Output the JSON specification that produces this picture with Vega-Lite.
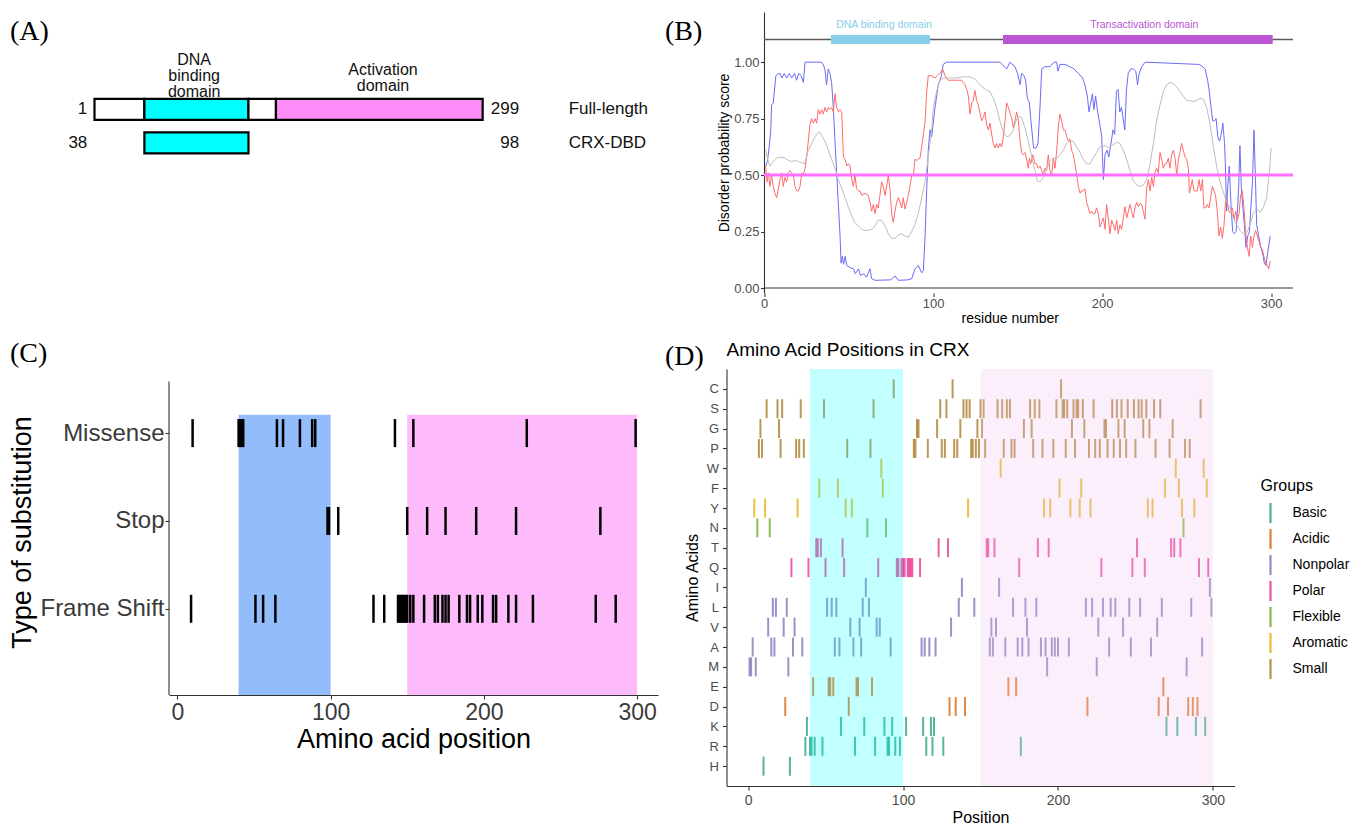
{
"$schema": "https://vega.github.io/schema/vega-lite/v6.json",
"background": "white",
"padding": {"left": 8, "top": 12, "right": 5, "bottom": 5},
"title": {"text": "(D)", "dx": 496, "dy": 385, "baseline": "alphabetic"},
"columns": 2,
"align": "each",
"bounds": "flush",
"spacing": {"row": 76, "column": 68.5},
"resolve": {"scale": {"color": "independent", "x": "independent", "y": "independent"}, "legend": {"color": "independent"}},
"config": {
  "view": {"stroke": null},
  "font": "Liberation Sans",
  "axis": {"grid": false, "domainColor": "#333333", "tickColor": "#333333", "labelColor": "#4D4D4D", "titleColor": "#000000", "titleFontWeight": "normal", "labelFont": "Liberation Sans", "titleFont": "Liberation Sans", "domainWidth": 1.1, "tickWidth": 1.1, "tickSize": 4, "labelFlush": false},
  "title": {"font": "Liberation Serif", "fontSize": 28, "fontWeight": "normal", "anchor": "start", "frame": "group", "color": "#000000"}
},
"datasets": {
  "parts": [
    {"row": 1, "part": "N-terminal", "from": 1, "to": 39.3},
    {"row": 1, "part": "DNA binding domain", "from": 39.3, "to": 119.2},
    {"row": 1, "part": "Linker", "from": 119.2, "to": 140.3},
    {"row": 1, "part": "Activation domain", "from": 140.3, "to": 299},
    {"row": 2, "part": "DNA binding domain", "from": 39.3, "to": 119.2}
  ],
  "rows": [
    {"row": 1, "name": "Full-length", "first": "1", "last": "299"},
    {"row": 2, "name": "CRX-DBD", "first": "38", "last": "98"}
  ],
  "domainLabels": [
    {"key": "DBD", "label": "DNA\nbinding\ndomain", "at": 77.5},
    {"key": "AD", "label": "Activation\ndomain", "at": 222.5}
  ],
  "bdomains": [
    {"name": "DNA binding domain", "start": 39.6, "end": 98.2, "mid": 71},
    {"name": "Transactivation domain", "start": 141.4, "end": 301, "mid": 225}
  ],
  "bguides": [
    {"guide": "threshold", "level": 0.5, "from": 0, "to": 313},
    {"guide": "protein", "level": 1.1, "from": 0, "to": 313},
    {"guide": "axis", "level": 0, "from": 0, "to": 313}
  ],
  "cguides": [
    {"guide": "axis", "x": -5.4, "lo": 0, "hi": 3.6}
  ],
  "regionsC": [
    {"region": "DNA binding", "start": 40, "end": 100, "lo": 0, "hi": 3.22},
    {"region": "Activation", "start": 150, "end": 300, "lo": 0, "hi": 3.22}
  ],
  "regionsD": [
    {"region": "DNA binding", "start": 40, "end": 100},
    {"region": "Activation", "start": 150, "end": 300}
  ],
  "mutations": [
    {"pos": 10, "type": "Missense"}, {"pos": 40, "type": "Missense"}, {"pos": 41, "type": "Missense"}, {"pos": 42, "type": "Missense"}, {"pos": 43, "type": "Missense"},
    {"pos": 65, "type": "Missense"}, {"pos": 69, "type": "Missense"}, {"pos": 80, "type": "Missense"}, {"pos": 88, "type": "Missense"}, {"pos": 90, "type": "Missense"},
    {"pos": 142, "type": "Missense"}, {"pos": 154, "type": "Missense"}, {"pos": 228, "type": "Missense"}, {"pos": 299, "type": "Missense"},
    {"pos": 98, "type": "Stop"}, {"pos": 99, "type": "Stop"}, {"pos": 105, "type": "Stop"}, {"pos": 150, "type": "Stop"}, {"pos": 163, "type": "Stop"},
    {"pos": 175, "type": "Stop"}, {"pos": 195, "type": "Stop"}, {"pos": 221, "type": "Stop"}, {"pos": 276, "type": "Stop"},
    {"pos": 9, "type": "Frame Shift"}, {"pos": 51, "type": "Frame Shift"}, {"pos": 56, "type": "Frame Shift"}, {"pos": 64, "type": "Frame Shift"},
    {"pos": 128, "type": "Frame Shift"}, {"pos": 135, "type": "Frame Shift"}, {"pos": 144, "type": "Frame Shift"}, {"pos": 145, "type": "Frame Shift"},
    {"pos": 146, "type": "Frame Shift"}, {"pos": 147, "type": "Frame Shift"}, {"pos": 148, "type": "Frame Shift"}, {"pos": 149, "type": "Frame Shift"},
    {"pos": 150, "type": "Frame Shift"}, {"pos": 152, "type": "Frame Shift"}, {"pos": 154, "type": "Frame Shift"}, {"pos": 161, "type": "Frame Shift"},
    {"pos": 168, "type": "Frame Shift"}, {"pos": 170, "type": "Frame Shift"}, {"pos": 173, "type": "Frame Shift"}, {"pos": 175, "type": "Frame Shift"},
    {"pos": 177, "type": "Frame Shift"}, {"pos": 184, "type": "Frame Shift"}, {"pos": 189, "type": "Frame Shift"}, {"pos": 191, "type": "Frame Shift"},
    {"pos": 196, "type": "Frame Shift"}, {"pos": 199, "type": "Frame Shift"}, {"pos": 206, "type": "Frame Shift"}, {"pos": 208, "type": "Frame Shift"},
    {"pos": 216, "type": "Frame Shift"}, {"pos": 221, "type": "Frame Shift"}, {"pos": 232, "type": "Frame Shift"}, {"pos": 273, "type": "Frame Shift"},
    {"pos": 286, "type": "Frame Shift"}
  ],
  "aagroups": [
    {"a": "K", "g": "Basic"}, {"a": "R", "g": "Basic"}, {"a": "H", "g": "Basic"},
    {"a": "D", "g": "Acidic"}, {"a": "E", "g": "Acidic"},
    {"a": "A", "g": "Nonpolar"}, {"a": "V", "g": "Nonpolar"}, {"a": "L", "g": "Nonpolar"}, {"a": "I", "g": "Nonpolar"}, {"a": "M", "g": "Nonpolar"},
    {"a": "T", "g": "Polar"}, {"a": "Q", "g": "Polar"},
    {"a": "N", "g": "Flexible"},
    {"a": "Y", "g": "Aromatic"}, {"a": "F", "g": "Aromatic"}, {"a": "W", "g": "Aromatic"},
    {"a": "S", "g": "Small"}, {"a": "G", "g": "Small"}, {"a": "P", "g": "Small"}, {"a": "C", "g": "Small"}
  ],
  "seq": [
    {"p":1,"a":"M"},{"p":2,"a":"M"},{"p":3,"a":"A"},{"p":4,"a":"Y"},{"p":5,"a":"M"},{"p":6,"a":"N"},{"p":7,"a":"P"},{"p":8,"a":"G"},{"p":9,"a":"P"},{"p":10,"a":"H"},
    {"p":11,"a":"Y"},{"p":12,"a":"S"},{"p":13,"a":"V"},{"p":14,"a":"N"},{"p":15,"a":"A"},{"p":16,"a":"L"},{"p":17,"a":"A"},{"p":18,"a":"L"},{"p":19,"a":"S"},{"p":20,"a":"G"},
    {"p":21,"a":"P"},{"p":22,"a":"S"},{"p":23,"a":"V"},{"p":24,"a":"D"},{"p":25,"a":"L"},{"p":26,"a":"M"},{"p":27,"a":"H"},{"p":28,"a":"Q"},{"p":29,"a":"A"},{"p":30,"a":"V"},
    {"p":31,"a":"P"},{"p":32,"a":"Y"},{"p":33,"a":"P"},{"p":34,"a":"S"},{"p":35,"a":"A"},{"p":36,"a":"P"},{"p":37,"a":"R"},{"p":38,"a":"K"},{"p":39,"a":"Q"},{"p":40,"a":"R"},
    {"p":41,"a":"R"},{"p":42,"a":"E"},{"p":43,"a":"R"},{"p":44,"a":"T"},{"p":45,"a":"T"},{"p":46,"a":"F"},{"p":47,"a":"T"},{"p":48,"a":"R"},{"p":49,"a":"S"},{"p":50,"a":"Q"},
    {"p":51,"a":"L"},{"p":52,"a":"E"},{"p":53,"a":"E"},{"p":54,"a":"L"},{"p":55,"a":"E"},{"p":56,"a":"A"},{"p":57,"a":"L"},{"p":58,"a":"F"},{"p":59,"a":"A"},{"p":60,"a":"K"},
    {"p":61,"a":"T"},{"p":62,"a":"Q"},{"p":63,"a":"Y"},{"p":64,"a":"P"},{"p":65,"a":"D"},{"p":66,"a":"V"},{"p":67,"a":"Y"},{"p":68,"a":"A"},{"p":69,"a":"R"},{"p":70,"a":"E"},
    {"p":71,"a":"E"},{"p":72,"a":"V"},{"p":73,"a":"A"},{"p":74,"a":"L"},{"p":75,"a":"K"},{"p":76,"a":"I"},{"p":77,"a":"N"},{"p":78,"a":"L"},{"p":79,"a":"P"},{"p":80,"a":"E"},
    {"p":81,"a":"S"},{"p":82,"a":"R"},{"p":83,"a":"V"},{"p":84,"a":"Q"},{"p":85,"a":"V"},{"p":86,"a":"W"},{"p":87,"a":"F"},{"p":88,"a":"K"},{"p":89,"a":"N"},{"p":90,"a":"R"},
    {"p":91,"a":"R"},{"p":92,"a":"A"},{"p":93,"a":"K"},{"p":94,"a":"C"},{"p":95,"a":"R"},{"p":96,"a":"Q"},{"p":97,"a":"Q"},{"p":98,"a":"R"},{"p":99,"a":"Q"},{"p":100,"a":"Q"},
    {"p":101,"a":"Q"},{"p":102,"a":"K"},{"p":103,"a":"Q"},{"p":104,"a":"Q"},{"p":105,"a":"Q"},{"p":106,"a":"Q"},{"p":107,"a":"P"},{"p":108,"a":"P"},{"p":109,"a":"G"},{"p":110,"a":"G"},
    {"p":111,"a":"Q"},{"p":112,"a":"A"},{"p":113,"a":"K"},{"p":114,"a":"A"},{"p":115,"a":"R"},{"p":116,"a":"P"},{"p":117,"a":"A"},{"p":118,"a":"K"},{"p":119,"a":"R"},{"p":120,"a":"K"},
    {"p":121,"a":"A"},{"p":122,"a":"G"},{"p":123,"a":"T"},{"p":124,"a":"S"},{"p":125,"a":"P"},{"p":126,"a":"R"},{"p":127,"a":"P"},{"p":128,"a":"S"},{"p":129,"a":"T"},{"p":130,"a":"D"},
    {"p":131,"a":"V"},{"p":132,"a":"C"},{"p":133,"a":"P"},{"p":134,"a":"D"},{"p":135,"a":"P"},{"p":136,"a":"L"},{"p":137,"a":"G"},{"p":138,"a":"I"},{"p":139,"a":"S"},{"p":140,"a":"D"},
    {"p":141,"a":"S"},{"p":142,"a":"Y"},{"p":143,"a":"S"},{"p":144,"a":"P"},{"p":145,"a":"P"},{"p":146,"a":"L"},{"p":147,"a":"P"},{"p":148,"a":"G"},{"p":149,"a":"P"},{"p":150,"a":"S"},
    {"p":151,"a":"G"},{"p":152,"a":"S"},{"p":153,"a":"P"},{"p":154,"a":"T"},{"p":155,"a":"T"},{"p":156,"a":"A"},{"p":157,"a":"V"},{"p":158,"a":"A"},{"p":159,"a":"T"},{"p":160,"a":"V"},
    {"p":161,"a":"S"},{"p":162,"a":"I"},{"p":163,"a":"W"},{"p":164,"a":"S"},{"p":165,"a":"P"},{"p":166,"a":"A"},{"p":167,"a":"S"},{"p":168,"a":"E"},{"p":169,"a":"S"},{"p":170,"a":"P"},
    {"p":171,"a":"L"},{"p":172,"a":"P"},{"p":173,"a":"E"},{"p":174,"a":"A"},{"p":175,"a":"Q"},{"p":176,"a":"R"},{"p":177,"a":"A"},{"p":178,"a":"G"},{"p":179,"a":"L"},{"p":180,"a":"V"},
    {"p":181,"a":"A"},{"p":182,"a":"S"},{"p":183,"a":"G"},{"p":184,"a":"P"},{"p":185,"a":"S"},{"p":186,"a":"L"},{"p":187,"a":"T"},{"p":188,"a":"S"},{"p":189,"a":"A"},{"p":190,"a":"P"},
    {"p":191,"a":"Y"},{"p":192,"a":"A"},{"p":193,"a":"M"},{"p":194,"a":"T"},{"p":195,"a":"Y"},{"p":196,"a":"A"},{"p":197,"a":"P"},{"p":198,"a":"A"},{"p":199,"a":"S"},{"p":200,"a":"A"},
    {"p":201,"a":"F"},{"p":202,"a":"C"},{"p":203,"a":"S"},{"p":204,"a":"S"},{"p":205,"a":"P"},{"p":206,"a":"S"},{"p":207,"a":"A"},{"p":208,"a":"Y"},{"p":209,"a":"G"},{"p":210,"a":"S"},
    {"p":211,"a":"P"},{"p":212,"a":"S"},{"p":213,"a":"S"},{"p":214,"a":"Y"},{"p":215,"a":"F"},{"p":216,"a":"S"},{"p":217,"a":"G"},{"p":218,"a":"L"},{"p":219,"a":"D"},{"p":220,"a":"P"},
    {"p":221,"a":"Y"},{"p":222,"a":"L"},{"p":223,"a":"S"},{"p":224,"a":"P"},{"p":225,"a":"M"},{"p":226,"a":"V"},{"p":227,"a":"P"},{"p":228,"a":"Q"},{"p":229,"a":"L"},{"p":230,"a":"G"},
    {"p":231,"a":"G"},{"p":232,"a":"P"},{"p":233,"a":"A"},{"p":234,"a":"L"},{"p":235,"a":"S"},{"p":236,"a":"P"},{"p":237,"a":"L"},{"p":238,"a":"S"},{"p":239,"a":"G"},{"p":240,"a":"P"},
    {"p":241,"a":"S"},{"p":242,"a":"V"},{"p":243,"a":"G"},{"p":244,"a":"P"},{"p":245,"a":"S"},{"p":246,"a":"L"},{"p":247,"a":"A"},{"p":248,"a":"Q"},{"p":249,"a":"S"},{"p":250,"a":"P"},
    {"p":251,"a":"T"},{"p":252,"a":"S"},{"p":253,"a":"L"},{"p":254,"a":"S"},{"p":255,"a":"G"},{"p":256,"a":"Q"},{"p":257,"a":"S"},{"p":258,"a":"Y"},{"p":259,"a":"G"},{"p":260,"a":"A"},
    {"p":261,"a":"Y"},{"p":262,"a":"S"},{"p":263,"a":"P"},{"p":264,"a":"V"},{"p":265,"a":"D"},{"p":266,"a":"S"},{"p":267,"a":"L"},{"p":268,"a":"E"},{"p":269,"a":"F"},{"p":270,"a":"K"},
    {"p":271,"a":"D"},{"p":272,"a":"P"},{"p":273,"a":"T"},{"p":274,"a":"G"},{"p":275,"a":"T"},{"p":276,"a":"W"},{"p":277,"a":"K"},{"p":278,"a":"F"},{"p":279,"a":"T"},{"p":280,"a":"Y"},
    {"p":281,"a":"N"},{"p":282,"a":"P"},{"p":283,"a":"M"},{"p":284,"a":"D"},{"p":285,"a":"P"},{"p":286,"a":"L"},{"p":287,"a":"D"},{"p":288,"a":"Y"},{"p":289,"a":"K"},{"p":290,"a":"D"},
    {"p":291,"a":"Q"},{"p":292,"a":"S"},{"p":293,"a":"A"},{"p":294,"a":"W"},{"p":295,"a":"K"},{"p":296,"a":"F"},{"p":297,"a":"Q"},{"p":298,"a":"I"},{"p":299,"a":"L"}
  ],
  "disorder": [
    {"s":"P1","r":1,"v":0.54},{"s":"P1","r":2,"v":0.56},{"s":"P1","r":3,"v":0.62},{"s":"P1","r":4,"v":0.7},{"s":"P1","r":4.5,"v":0.81},{"s":"P1","r":5.5,"v":0.82},{"s":"P1","r":7,"v":0.94},{"s":"P1","r":8.5,"v":0.95},{"s":"P1","r":9.5,"v":0.95},{"s":"P1","r":10.5,"v":0.93},
    {"s":"P1","r":12,"v":0.95},{"s":"P1","r":13.4,"v":0.93},{"s":"P1","r":15,"v":0.95},{"s":"P1","r":16.4,"v":0.93},{"s":"P1","r":18,"v":0.95},{"s":"P1","r":19.3,"v":0.92},{"s":"P1","r":20.5,"v":0.95},{"s":"P1","r":22,"v":0.94},{"s":"P1","r":23.3,"v":0.91},{"s":"P1","r":24.3,"v":1.0},
    {"s":"P1","r":34,"v":1.0},{"s":"P1","r":35,"v":0.99},{"s":"P1","r":36,"v":0.97},{"s":"P1","r":37,"v":0.9},{"s":"P1","r":38,"v":0.97},{"s":"P1","r":39,"v":0.95},{"s":"P1","r":40,"v":0.91},{"s":"P1","r":41,"v":0.8},{"s":"P1","r":42,"v":0.65},{"s":"P1","r":43,"v":0.51},
    {"s":"P1","r":44,"v":0.37},{"s":"P1","r":45,"v":0.23},{"s":"P1","r":45.6,"v":0.11},{"s":"P1","r":46.3,"v":0.14},{"s":"P1","r":47.1,"v":0.105},{"s":"P1","r":48,"v":0.14},{"s":"P1","r":49,"v":0.1},{"s":"P1","r":51,"v":0.09},{"s":"P1","r":53,"v":0.085},{"s":"P1","r":54,"v":0.063},
    {"s":"P1","r":56,"v":0.085},{"s":"P1","r":57,"v":0.056},{"s":"P1","r":59,"v":0.063},{"s":"P1","r":60.7,"v":0.048},{"s":"P1","r":62.7,"v":0.085},{"s":"P1","r":63.7,"v":0.041},{"s":"P1","r":65.7,"v":0.034},{"s":"P1","r":70,"v":0.035},{"s":"P1","r":75,"v":0.036},{"s":"P1","r":77.5,"v":0.053},
    {"s":"P1","r":79.5,"v":0.034},{"s":"P1","r":85,"v":0.036},{"s":"P1","r":87.4,"v":0.041},{"s":"P1","r":89.3,"v":0.084},{"s":"P1","r":91.3,"v":0.1},{"s":"P1","r":93.3,"v":0.067},{"s":"P1","r":94.3,"v":0.077},{"s":"P1","r":95.3,"v":0.23},{"s":"P1","r":96.3,"v":0.44},{"s":"P1","r":97.2,"v":0.61},
    {"s":"P1","r":98.2,"v":0.7},{"s":"P1","r":99.2,"v":0.67},{"s":"P1","r":101.2,"v":0.8},{"s":"P1","r":103.1,"v":0.9},{"s":"P1","r":105,"v":0.94},{"s":"P1","r":106,"v":0.99},{"s":"P1","r":108,"v":1.0},{"s":"P1","r":139.6,"v":1.0},{"s":"P1","r":143.6,"v":0.97},{"s":"P1","r":145.5,"v":1.0},
    {"s":"P1","r":148.5,"v":0.98},{"s":"P1","r":150,"v":0.95},{"s":"P1","r":151.5,"v":0.9},{"s":"P1","r":152.4,"v":0.95},{"s":"P1","r":153.8,"v":0.94},{"s":"P1","r":154.8,"v":0.92},{"s":"P1","r":155.8,"v":0.84},{"s":"P1","r":157,"v":0.82},{"s":"P1","r":157.8,"v":0.75},{"s":"P1","r":158.6,"v":0.69},
    {"s":"P1","r":159.5,"v":0.62},{"s":"P1","r":160.9,"v":0.62},{"s":"P1","r":162.1,"v":0.64},{"s":"P1","r":163.3,"v":0.8},{"s":"P1","r":164.3,"v":0.97},{"s":"P1","r":166.2,"v":0.98},{"s":"P1","r":169.2,"v":0.98},{"s":"P1","r":171.6,"v":1.0},{"s":"P1","r":173.2,"v":1.0},{"s":"P1","r":173.9,"v":0.96},
    {"s":"P1","r":175.1,"v":0.99},{"s":"P1","r":178.1,"v":0.99},{"s":"P1","r":181,"v":0.98},{"s":"P1","r":183.4,"v":0.97},{"s":"P1","r":186,"v":0.95},{"s":"P1","r":188.5,"v":0.93},{"s":"P1","r":189.9,"v":0.9},{"s":"P1","r":191.3,"v":0.85},{"s":"P1","r":192.3,"v":0.78},{"s":"P1","r":193.3,"v":0.82},
    {"s":"P1","r":194.3,"v":0.86},{"s":"P1","r":195.2,"v":0.79},{"s":"P1","r":196.2,"v":0.85},{"s":"P1","r":197.4,"v":0.78},{"s":"P1","r":198.8,"v":0.72},{"s":"P1","r":199.8,"v":0.67},{"s":"P1","r":200.8,"v":0.48},{"s":"P1","r":201.8,"v":0.59},{"s":"P1","r":203,"v":0.61},{"s":"P1","r":204,"v":0.58},
    {"s":"P1","r":205.5,"v":0.65},{"s":"P1","r":206.5,"v":0.7},{"s":"P1","r":207.5,"v":0.68},{"s":"P1","r":208.5,"v":0.87},{"s":"P1","r":209.5,"v":0.88},{"s":"P1","r":210.5,"v":0.78},{"s":"P1","r":211.5,"v":0.8},{"s":"P1","r":212.5,"v":0.75},{"s":"P1","r":213.5,"v":0.7},{"s":"P1","r":214.5,"v":0.88},
    {"s":"P1","r":215.5,"v":0.95},{"s":"P1","r":217,"v":0.97},{"s":"P1","r":218.5,"v":0.97},{"s":"P1","r":220,"v":0.96},{"s":"P1","r":221,"v":0.9},{"s":"P1","r":222,"v":0.95},{"s":"P1","r":223.5,"v":0.98},{"s":"P1","r":225.5,"v":1.0},{"s":"P1","r":257.5,"v":0.99},{"s":"P1","r":259.5,"v":0.98},
    {"s":"P1","r":261,"v":0.97},{"s":"P1","r":262.5,"v":0.92},{"s":"P1","r":263.5,"v":0.87},{"s":"P1","r":264.5,"v":0.8},{"s":"P1","r":265.5,"v":0.74},{"s":"P1","r":266.5,"v":0.74},{"s":"P1","r":267.5,"v":0.75},{"s":"P1","r":268.5,"v":0.67},{"s":"P1","r":269.5,"v":0.65},{"s":"P1","r":270.5,"v":0.68},
    {"s":"P1","r":271.5,"v":0.73},{"s":"P1","r":272.5,"v":0.64},{"s":"P1","r":273,"v":0.54},{"s":"P1","r":273.7,"v":0.34},{"s":"P1","r":274.3,"v":0.44},{"s":"P1","r":275.3,"v":0.54},{"s":"P1","r":276.3,"v":0.37},{"s":"P1","r":277.3,"v":0.25},{"s":"P1","r":278.3,"v":0.24},{"s":"P1","r":279.3,"v":0.25},
    {"s":"P1","r":280.2,"v":0.35},{"s":"P1","r":280.8,"v":0.44},{"s":"P1","r":281.6,"v":0.63},{"s":"P1","r":282.4,"v":0.45},{"s":"P1","r":283.2,"v":0.37},{"s":"P1","r":284.2,"v":0.28},{"s":"P1","r":285.2,"v":0.18},{"s":"P1","r":286.2,"v":0.23},{"s":"P1","r":287.2,"v":0.25},{"s":"P1","r":288.2,"v":0.37},
    {"s":"P1","r":289.1,"v":0.48},{"s":"P1","r":289.9,"v":0.7},{"s":"P1","r":290.7,"v":0.51},{"s":"P1","r":291.5,"v":0.28},{"s":"P1","r":292.7,"v":0.23},{"s":"P1","r":294,"v":0.18},{"s":"P1","r":295,"v":0.155},{"s":"P1","r":296,"v":0.11},{"s":"P1","r":297,"v":0.1},{"s":"P1","r":298,"v":0.155},
    {"s":"P1","r":299.5,"v":0.23},
    {"s":"P2","r":1,"v":0.54},{"s":"P2","r":1.8,"v":0.47},{"s":"P2","r":2.6,"v":0.51},{"s":"P2","r":3.5,"v":0.45},{"s":"P2","r":4.5,"v":0.5},{"s":"P2","r":5.5,"v":0.45},{"s":"P2","r":6.5,"v":0.42},{"s":"P2","r":7.5,"v":0.4},{"s":"P2","r":8.5,"v":0.44},{"s":"P2","r":9.5,"v":0.48},
    {"s":"P2","r":10.5,"v":0.51},{"s":"P2","r":11.4,"v":0.45},{"s":"P2","r":12.4,"v":0.49},{"s":"P2","r":13.4,"v":0.47},{"s":"P2","r":14.4,"v":0.51},{"s":"P2","r":15.4,"v":0.52},{"s":"P2","r":16.4,"v":0.51},{"s":"P2","r":17.4,"v":0.5},{"s":"P2","r":18.3,"v":0.45},{"s":"P2","r":19.3,"v":0.43},
    {"s":"P2","r":20.3,"v":0.43},{"s":"P2","r":21.3,"v":0.45},{"s":"P2","r":22.3,"v":0.51},{"s":"P2","r":23.3,"v":0.5},{"s":"P2","r":24.3,"v":0.53},{"s":"P2","r":25.2,"v":0.58},{"s":"P2","r":26.2,"v":0.65},{"s":"P2","r":27.2,"v":0.725},{"s":"P2","r":28.2,"v":0.75},{"s":"P2","r":29.2,"v":0.73},
    {"s":"P2","r":30.2,"v":0.75},{"s":"P2","r":31.2,"v":0.73},{"s":"P2","r":32.1,"v":0.79},{"s":"P2","r":33.1,"v":0.77},{"s":"P2","r":34.1,"v":0.79},{"s":"P2","r":35.1,"v":0.77},{"s":"P2","r":36.1,"v":0.8},{"s":"P2","r":37.1,"v":0.78},{"s":"P2","r":38.1,"v":0.8},{"s":"P2","r":39,"v":0.79},
    {"s":"P2","r":40,"v":0.8},{"s":"P2","r":41,"v":0.78},{"s":"P2","r":42,"v":0.86},{"s":"P2","r":43,"v":0.8},{"s":"P2","r":44,"v":0.78},{"s":"P2","r":45,"v":0.79},{"s":"P2","r":46,"v":0.78},{"s":"P2","r":47,"v":0.58},{"s":"P2","r":48,"v":0.57},{"s":"P2","r":49,"v":0.54},
    {"s":"P2","r":50,"v":0.55},{"s":"P2","r":50.9,"v":0.54},{"s":"P2","r":51.9,"v":0.48},{"s":"P2","r":52.9,"v":0.45},{"s":"P2","r":53.8,"v":0.5},{"s":"P2","r":54.8,"v":0.44},{"s":"P2","r":55.8,"v":0.43},{"s":"P2","r":56.8,"v":0.43},{"s":"P2","r":57.8,"v":0.41},{"s":"P2","r":59.8,"v":0.42},
    {"s":"P2","r":61.7,"v":0.41},{"s":"P2","r":62.7,"v":0.38},{"s":"P2","r":63.7,"v":0.34},{"s":"P2","r":64.7,"v":0.37},{"s":"P2","r":65.7,"v":0.33},{"s":"P2","r":66.7,"v":0.37},{"s":"P2","r":67.6,"v":0.355},{"s":"P2","r":68.6,"v":0.41},{"s":"P2","r":69.6,"v":0.47},{"s":"P2","r":70.6,"v":0.45},
    {"s":"P2","r":71.6,"v":0.41},{"s":"P2","r":72.6,"v":0.45},{"s":"P2","r":73.6,"v":0.5},{"s":"P2","r":74.6,"v":0.43},{"s":"P2","r":75.5,"v":0.33},{"s":"P2","r":76.5,"v":0.29},{"s":"P2","r":77.5,"v":0.34},{"s":"P2","r":78.5,"v":0.38},{"s":"P2","r":79.5,"v":0.4},{"s":"P2","r":80.5,"v":0.38},
    {"s":"P2","r":81.5,"v":0.355},{"s":"P2","r":82.4,"v":0.4},{"s":"P2","r":83.4,"v":0.35},{"s":"P2","r":84.4,"v":0.38},{"s":"P2","r":85.4,"v":0.41},{"s":"P2","r":86.4,"v":0.45},{"s":"P2","r":87.4,"v":0.5},{"s":"P2","r":88.4,"v":0.5},{"s":"P2","r":89.3,"v":0.57},{"s":"P2","r":90.3,"v":0.565},
    {"s":"P2","r":91.3,"v":0.57},{"s":"P2","r":92.3,"v":0.575},{"s":"P2","r":93.3,"v":0.625},{"s":"P2","r":94.3,"v":0.68},{"s":"P2","r":95.3,"v":0.74},{"s":"P2","r":96.3,"v":0.87},{"s":"P2","r":97.2,"v":0.94},{"s":"P2","r":99.2,"v":0.94},{"s":"P2","r":101.2,"v":0.93},{"s":"P2","r":102.5,"v":0.94},
    {"s":"P2","r":104.1,"v":0.95},{"s":"P2","r":105.7,"v":0.97},{"s":"P2","r":107.1,"v":0.94},{"s":"P2","r":109,"v":0.92},{"s":"P2","r":112,"v":0.92},{"s":"P2","r":115,"v":0.92},{"s":"P2","r":116.9,"v":0.92},{"s":"P2","r":117.9,"v":0.91},{"s":"P2","r":118.9,"v":0.9},{"s":"P2","r":119.9,"v":0.88},
    {"s":"P2","r":120.9,"v":0.85},{"s":"P2","r":121.9,"v":0.77},{"s":"P2","r":122.9,"v":0.82},{"s":"P2","r":123.8,"v":0.83},{"s":"P2","r":124.8,"v":0.875},{"s":"P2","r":125.8,"v":0.83},{"s":"P2","r":126.8,"v":0.81},{"s":"P2","r":127.8,"v":0.775},{"s":"P2","r":128.8,"v":0.74},{"s":"P2","r":129.8,"v":0.755},
    {"s":"P2","r":130.7,"v":0.78},{"s":"P2","r":131.7,"v":0.725},{"s":"P2","r":132.7,"v":0.7},{"s":"P2","r":133.7,"v":0.73},{"s":"P2","r":134.7,"v":0.68},{"s":"P2","r":135.7,"v":0.64},{"s":"P2","r":136.7,"v":0.62},{"s":"P2","r":137.6,"v":0.64},{"s":"P2","r":138.6,"v":0.62},{"s":"P2","r":139.6,"v":0.64},
    {"s":"P2","r":140.6,"v":0.625},{"s":"P2","r":141.6,"v":0.67},{"s":"P2","r":142.6,"v":0.74},{"s":"P2","r":143.6,"v":0.82},{"s":"P2","r":144.6,"v":0.8},{"s":"P2","r":145.5,"v":0.775},{"s":"P2","r":146.5,"v":0.755},{"s":"P2","r":147.5,"v":0.71},{"s":"P2","r":148.5,"v":0.74},{"s":"P2","r":149.5,"v":0.78},
    {"s":"P2","r":150.5,"v":0.74},{"s":"P2","r":151.5,"v":0.65},{"s":"P2","r":152.4,"v":0.6},{"s":"P2","r":153.4,"v":0.59},{"s":"P2","r":154.4,"v":0.6},{"s":"P2","r":155.4,"v":0.57},{"s":"P2","r":156.4,"v":0.53},{"s":"P2","r":157,"v":0.575},{"s":"P2","r":157.8,"v":0.55},{"s":"P2","r":159,"v":0.59},
    {"s":"P2","r":160.3,"v":0.55},{"s":"P2","r":161.3,"v":0.55},{"s":"P2","r":162.3,"v":0.53},{"s":"P2","r":163.3,"v":0.54},{"s":"P2","r":164.3,"v":0.52},{"s":"P2","r":165.3,"v":0.5},{"s":"P2","r":166.2,"v":0.53},{"s":"P2","r":167.2,"v":0.52},{"s":"P2","r":168.2,"v":0.59},{"s":"P2","r":169.2,"v":0.52},
    {"s":"P2","r":170.2,"v":0.5},{"s":"P2","r":171.2,"v":0.575},{"s":"P2","r":172.2,"v":0.53},{"s":"P2","r":173.2,"v":0.61},{"s":"P2","r":174.1,"v":0.71},{"s":"P2","r":175.1,"v":0.77},{"s":"P2","r":176.1,"v":0.74},{"s":"P2","r":177.1,"v":0.7},{"s":"P2","r":178.1,"v":0.7},{"s":"P2","r":179.1,"v":0.67},
    {"s":"P2","r":180.1,"v":0.65},{"s":"P2","r":181,"v":0.66},{"s":"P2","r":182,"v":0.61},{"s":"P2","r":183,"v":0.59},{"s":"P2","r":184,"v":0.55},{"s":"P2","r":185,"v":0.5},{"s":"P2","r":186,"v":0.45},{"s":"P2","r":187,"v":0.42},{"s":"P2","r":187.9,"v":0.43},{"s":"P2","r":188.9,"v":0.43},
    {"s":"P2","r":189.9,"v":0.44},{"s":"P2","r":190.9,"v":0.38},{"s":"P2","r":191.9,"v":0.355},{"s":"P2","r":192.9,"v":0.33},{"s":"P2","r":193.9,"v":0.34},{"s":"P2","r":194.8,"v":0.33},{"s":"P2","r":195.8,"v":0.33},{"s":"P2","r":196.8,"v":0.355},{"s":"P2","r":197.8,"v":0.33},{"s":"P2","r":198.8,"v":0.27},
    {"s":"P2","r":199.8,"v":0.29},{"s":"P2","r":200.8,"v":0.31},{"s":"P2","r":201.8,"v":0.26},{"s":"P2","r":202.7,"v":0.37},{"s":"P2","r":203.7,"v":0.31},{"s":"P2","r":204.7,"v":0.24},{"s":"P2","r":205.7,"v":0.3},{"s":"P2","r":206.7,"v":0.28},{"s":"P2","r":207.7,"v":0.255},{"s":"P2","r":208.7,"v":0.3},
    {"s":"P2","r":209.6,"v":0.24},{"s":"P2","r":210.6,"v":0.28},{"s":"P2","r":211.6,"v":0.26},{"s":"P2","r":212.6,"v":0.31},{"s":"P2","r":213.6,"v":0.36},{"s":"P2","r":214.6,"v":0.31},{"s":"P2","r":215.6,"v":0.34},{"s":"P2","r":216.5,"v":0.37},{"s":"P2","r":217.5,"v":0.34},{"s":"P2","r":218.5,"v":0.31},
    {"s":"P2","r":219.5,"v":0.355},{"s":"P2","r":220.5,"v":0.38},{"s":"P2","r":221.5,"v":0.36},{"s":"P2","r":222.5,"v":0.375},{"s":"P2","r":223.5,"v":0.37},{"s":"P2","r":224.4,"v":0.34},{"s":"P2","r":225.4,"v":0.305},{"s":"P2","r":226.4,"v":0.44},{"s":"P2","r":227.4,"v":0.48},{"s":"P2","r":228.4,"v":0.43},
    {"s":"P2","r":229.4,"v":0.49},{"s":"P2","r":230.4,"v":0.45},{"s":"P2","r":231.3,"v":0.51},{"s":"P2","r":232.3,"v":0.53},{"s":"P2","r":233.3,"v":0.51},{"s":"P2","r":234.3,"v":0.6},{"s":"P2","r":235.3,"v":0.57},{"s":"P2","r":236.3,"v":0.53},{"s":"P2","r":237.3,"v":0.55},{"s":"P2","r":238.2,"v":0.55},
    {"s":"P2","r":239.2,"v":0.575},{"s":"P2","r":240.2,"v":0.53},{"s":"P2","r":241.2,"v":0.59},{"s":"P2","r":242.2,"v":0.61},{"s":"P2","r":243.2,"v":0.575},{"s":"P2","r":244.2,"v":0.5},{"s":"P2","r":245.2,"v":0.57},{"s":"P2","r":246.1,"v":0.6},{"s":"P2","r":247.1,"v":0.64},{"s":"P2","r":248.1,"v":0.61},
    {"s":"P2","r":249.1,"v":0.58},{"s":"P2","r":250.1,"v":0.57},{"s":"P2","r":251.1,"v":0.53},{"s":"P2","r":251.7,"v":0.42},{"s":"P2","r":252.4,"v":0.44},{"s":"P2","r":253.4,"v":0.48},{"s":"P2","r":254.4,"v":0.43},{"s":"P2","r":255.4,"v":0.43},{"s":"P2","r":256.4,"v":0.43},{"s":"P2","r":257.4,"v":0.48},
    {"s":"P2","r":258.4,"v":0.43},{"s":"P2","r":259.4,"v":0.48},{"s":"P2","r":260.3,"v":0.355},{"s":"P2","r":261.3,"v":0.355},{"s":"P2","r":262.3,"v":0.37},{"s":"P2","r":263.3,"v":0.355},{"s":"P2","r":264.3,"v":0.4},{"s":"P2","r":265.3,"v":0.45},{"s":"P2","r":266.3,"v":0.43},{"s":"P2","r":267.2,"v":0.41},
    {"s":"P2","r":268.2,"v":0.34},{"s":"P2","r":269.2,"v":0.23},{"s":"P2","r":270.2,"v":0.27},{"s":"P2","r":271.2,"v":0.22},{"s":"P2","r":272.2,"v":0.28},{"s":"P2","r":273.2,"v":0.4},{"s":"P2","r":274.1,"v":0.38},{"s":"P2","r":275.1,"v":0.34},{"s":"P2","r":276.1,"v":0.33},{"s":"P2","r":277.1,"v":0.355},
    {"s":"P2","r":278.1,"v":0.305},{"s":"P2","r":279.1,"v":0.34},{"s":"P2","r":280.1,"v":0.3},{"s":"P2","r":281.1,"v":0.33},{"s":"P2","r":282,"v":0.41},{"s":"P2","r":283,"v":0.43},{"s":"P2","r":284,"v":0.355},{"s":"P2","r":285,"v":0.24},{"s":"P2","r":286,"v":0.18},{"s":"P2","r":287,"v":0.14},
    {"s":"P2","r":288,"v":0.23},{"s":"P2","r":289,"v":0.18},{"s":"P2","r":289.9,"v":0.23},{"s":"P2","r":290.9,"v":0.255},{"s":"P2","r":291.9,"v":0.23},{"s":"P2","r":292.9,"v":0.205},{"s":"P2","r":293.9,"v":0.18},{"s":"P2","r":294.9,"v":0.17},{"s":"P2","r":295.8,"v":0.14},{"s":"P2","r":296.8,"v":0.11},
    {"s":"P2","r":297.8,"v":0.1},{"s":"P2","r":298.6,"v":0.084},{"s":"P2","r":299.5,"v":0.12},
    {"s":"P3","r":1,"v":0.61},{"s":"P3","r":2.2,"v":0.57},{"s":"P3","r":3.5,"v":0.54},{"s":"P3","r":5.5,"v":0.56},{"s":"P3","r":7.5,"v":0.575},{"s":"P3","r":9.5,"v":0.58},{"s":"P3","r":12.4,"v":0.575},{"s":"P3","r":14.4,"v":0.565},{"s":"P3","r":16.4,"v":0.56},{"s":"P3","r":18.3,"v":0.565},
    {"s":"P3","r":20.3,"v":0.56},{"s":"P3","r":22.3,"v":0.555},{"s":"P3","r":23.9,"v":0.55},{"s":"P3","r":25.2,"v":0.58},{"s":"P3","r":26.2,"v":0.61},{"s":"P3","r":28.2,"v":0.64},{"s":"P3","r":30.2,"v":0.67},{"s":"P3","r":32.1,"v":0.69},{"s":"P3","r":33.1,"v":0.69},{"s":"P3","r":34.1,"v":0.675},
    {"s":"P3","r":36.1,"v":0.65},{"s":"P3","r":38.1,"v":0.61},{"s":"P3","r":40,"v":0.57},{"s":"P3","r":42,"v":0.53},{"s":"P3","r":44,"v":0.48},{"s":"P3","r":46,"v":0.44},{"s":"P3","r":48,"v":0.4},{"s":"P3","r":50,"v":0.355},{"s":"P3","r":51.9,"v":0.32},{"s":"P3","r":53.8,"v":0.29},
    {"s":"P3","r":55.8,"v":0.275},{"s":"P3","r":57.8,"v":0.26},{"s":"P3","r":59.8,"v":0.255},{"s":"P3","r":61.7,"v":0.255},{"s":"P3","r":63.7,"v":0.26},{"s":"P3","r":65.7,"v":0.275},{"s":"P3","r":67.6,"v":0.3},{"s":"P3","r":69.6,"v":0.3},{"s":"P3","r":71.6,"v":0.275},{"s":"P3","r":73.6,"v":0.24},
    {"s":"P3","r":75.5,"v":0.22},{"s":"P3","r":77.5,"v":0.22},{"s":"P3","r":79.5,"v":0.235},{"s":"P3","r":81.5,"v":0.24},{"s":"P3","r":83.4,"v":0.23},{"s":"P3","r":85.4,"v":0.225},{"s":"P3","r":87.4,"v":0.25},{"s":"P3","r":89.3,"v":0.28},{"s":"P3","r":91.3,"v":0.33},{"s":"P3","r":93.3,"v":0.4},
    {"s":"P3","r":95.3,"v":0.47},{"s":"P3","r":97.2,"v":0.58},{"s":"P3","r":99.2,"v":0.7},{"s":"P3","r":100.2,"v":0.8},{"s":"P3","r":102.1,"v":0.87},{"s":"P3","r":104.1,"v":0.92},{"s":"P3","r":106.1,"v":0.93},{"s":"P3","r":110,"v":0.93},{"s":"P3","r":114,"v":0.93},{"s":"P3","r":117.9,"v":0.935},
    {"s":"P3","r":121.9,"v":0.935},{"s":"P3","r":124.8,"v":0.925},{"s":"P3","r":127.8,"v":0.9},{"s":"P3","r":131.7,"v":0.875},{"s":"P3","r":133.7,"v":0.87},{"s":"P3","r":135.7,"v":0.84},{"s":"P3","r":137.6,"v":0.8},{"s":"P3","r":139.6,"v":0.74},{"s":"P3","r":141.6,"v":0.69},{"s":"P3","r":143.6,"v":0.67},
    {"s":"P3","r":145.5,"v":0.675},{"s":"P3","r":147.5,"v":0.7},{"s":"P3","r":149.5,"v":0.75},{"s":"P3","r":151.1,"v":0.76},{"s":"P3","r":152.4,"v":0.755},{"s":"P3","r":154.4,"v":0.71},{"s":"P3","r":156.4,"v":0.65},{"s":"P3","r":158.4,"v":0.58},{"s":"P3","r":160.3,"v":0.52},{"s":"P3","r":161.7,"v":0.475},
    {"s":"P3","r":163.3,"v":0.47},{"s":"P3","r":165.3,"v":0.49},{"s":"P3","r":167.2,"v":0.525},{"s":"P3","r":169.2,"v":0.56},{"s":"P3","r":171.2,"v":0.575},{"s":"P3","r":173.2,"v":0.575},{"s":"P3","r":175.1,"v":0.59},{"s":"P3","r":177.1,"v":0.61},{"s":"P3","r":179.1,"v":0.64},{"s":"P3","r":181,"v":0.65},
    {"s":"P3","r":183,"v":0.65},{"s":"P3","r":185,"v":0.625},{"s":"P3","r":187,"v":0.6},{"s":"P3","r":188.9,"v":0.57},{"s":"P3","r":190.9,"v":0.55},{"s":"P3","r":192.9,"v":0.55},{"s":"P3","r":194.8,"v":0.575},{"s":"P3","r":196.8,"v":0.6},{"s":"P3","r":198.8,"v":0.625},{"s":"P3","r":201.8,"v":0.63},
    {"s":"P3","r":203.7,"v":0.62},{"s":"P3","r":205.7,"v":0.63},{"s":"P3","r":208.7,"v":0.645},{"s":"P3","r":210.6,"v":0.64},{"s":"P3","r":212.6,"v":0.61},{"s":"P3","r":214.6,"v":0.57},{"s":"P3","r":216.5,"v":0.52},{"s":"P3","r":218.5,"v":0.475},{"s":"P3","r":220.5,"v":0.455},{"s":"P3","r":222.5,"v":0.45},
    {"s":"P3","r":224.4,"v":0.455},{"s":"P3","r":226.4,"v":0.48},{"s":"P3","r":228.4,"v":0.55},{"s":"P3","r":230.4,"v":0.64},{"s":"P3","r":232.3,"v":0.74},{"s":"P3","r":234.3,"v":0.81},{"s":"P3","r":236.3,"v":0.87},{"s":"P3","r":238.2,"v":0.9},{"s":"P3","r":240.2,"v":0.91},{"s":"P3","r":242.2,"v":0.905},
    {"s":"P3","r":244.2,"v":0.89},{"s":"P3","r":246.1,"v":0.87},{"s":"P3","r":248.1,"v":0.85},{"s":"P3","r":250.1,"v":0.83},{"s":"P3","r":252.1,"v":0.83},{"s":"P3","r":254,"v":0.825},{"s":"P3","r":256,"v":0.83},{"s":"P3","r":258,"v":0.84},{"s":"P3","r":260,"v":0.835},{"s":"P3","r":261.9,"v":0.8},
    {"s":"P3","r":263.9,"v":0.725},{"s":"P3","r":265.9,"v":0.625},{"s":"P3","r":267.8,"v":0.54},{"s":"P3","r":269.8,"v":0.47},{"s":"P3","r":271.8,"v":0.425},{"s":"P3","r":273.7,"v":0.38},{"s":"P3","r":275.7,"v":0.355},{"s":"P3","r":277.7,"v":0.31},{"s":"P3","r":279.7,"v":0.28},{"s":"P3","r":281.6,"v":0.255},
    {"s":"P3","r":283.6,"v":0.24},{"s":"P3","r":285.6,"v":0.245},{"s":"P3","r":287.6,"v":0.28},{"s":"P3","r":289.5,"v":0.33},{"s":"P3","r":291.5,"v":0.35},{"s":"P3","r":293.5,"v":0.335},{"s":"P3","r":295.4,"v":0.355},{"s":"P3","r":297.4,"v":0.4},{"s":"P3","r":299,"v":0.51},{"s":"P3","r":300,"v":0.62}
  ]
},
"concat": [
  {
    "width": 489, "height": 281,
    "title": {"text": "(A)", "dx": -159, "dy": 60, "baseline": "alphabetic"},
    "layer": [
      {
        "data": {"name": "parts"},
        "mark": {"type": "bar", "orient": "horizontal", "size": 21, "stroke": "black", "strokeWidth": 2.2},
        "encoding": {
          "x": {"field": "from", "type": "quantitative", "scale": {"domain": [58.2, 433.6], "nice": false, "zero": false}, "axis": null},
          "x2": {"field": "to"},
          "y": {"field": "row", "type": "quantitative", "scale": {"domain": [-1.753, 6.322], "reverse": true, "nice": false, "zero": false}, "axis": null},
          "color": {"field": "part", "type": "nominal", "scale": {"domain": ["N-terminal", "DNA binding domain", "Linker", "Activation domain"], "range": ["#FFFFFF", "#00FFFF", "#FFFFFF", "#FF8DF9"]}, "legend": null}
        }
      },
      {
        "data": {"name": "rows"},
        "mark": {"type": "text", "align": "right", "baseline": "middle", "fontSize": 17, "font": "Liberation Sans", "color": "#111111"},
        "encoding": {"x": {"datum": -4.5}, "y": {"field": "row", "type": "quantitative"}, "text": {"field": "first"}}
      },
      {
        "data": {"name": "rows"},
        "mark": {"type": "text", "align": "right", "baseline": "middle", "fontSize": 17, "font": "Liberation Sans", "color": "#111111"},
        "encoding": {"x": {"datum": 327}, "y": {"field": "row", "type": "quantitative"}, "text": {"field": "last"}}
      },
      {
        "data": {"name": "rows"},
        "mark": {"type": "text", "align": "left", "baseline": "middle", "fontSize": 17, "font": "Liberation Sans", "color": "#111111"},
        "encoding": {"x": {"datum": 365}, "y": {"field": "row", "type": "quantitative"}, "text": {"field": "name"}}
      },
      {
        "data": {"name": "domainLabels"},
        "transform": [{"filter": "datum.key == 'DBD'"}],
        "mark": {"type": "text", "align": "center", "baseline": "middle", "fontSize": 16, "font": "Liberation Sans", "lineBreak": "\n", "lineHeight": 16, "color": "#111111"},
        "encoding": {"x": {"field": "at", "type": "quantitative"}, "y": {"datum": -0.466}, "text": {"field": "label"}}
      },
      {
        "data": {"name": "domainLabels"},
        "transform": [{"filter": "datum.key == 'AD'"}],
        "mark": {"type": "text", "align": "center", "baseline": "middle", "fontSize": 16, "font": "Liberation Sans", "lineBreak": "\n", "lineHeight": 16, "color": "#111111"},
        "encoding": {"x": {"field": "at", "type": "quantitative"}, "y": {"datum": -0.178}, "text": {"field": "label"}}
      }
    ]
  },
  {
    "width": 566.5, "height": 281,
    "title": {"text": "(B)", "dx": -61.5, "dy": 60, "baseline": "alphabetic"},
    "layer": [
      {
        "data": {"name": "disorder"},
        "mark": {"type": "line", "strokeWidth": 1},
        "encoding": {
          "x": {"field": "r", "type": "quantitative", "scale": {"domain": [-22.19, 313], "nice": false, "zero": false},
                "axis": {"values": [0, 100, 200, 300], "domain": false, "title": "residue number", "labelFontSize": 13, "titleFontSize": 14, "tickSize": 3.5, "labelPadding": 1, "titlePadding": 1}},
          "y": {"field": "v", "type": "quantitative", "scale": {"domain": [0, 1.2], "nice": false},
                "axis": {"values": [0, 0.25, 0.5, 0.75, 1], "format": ".2f", "offset": -37.5, "title": "Disorder probability score", "labelFontSize": 13, "titleFontSize": 14, "tickSize": 3.5, "labelPadding": 1.5, "titlePadding": 2}},
          "color": {"field": "s", "type": "nominal", "scale": {"domain": ["P3", "P2", "P1"], "range": ["#BDBDBD", "#FF6B6B", "#6B6BF8"]}, "legend": null}
        }
      },
      {
        "data": {"name": "bguides"},
        "transform": [{"filter": "datum.guide == 'threshold'"}],
        "mark": {"type": "rule", "color": "#FF6EFF", "strokeWidth": 3},
        "encoding": {"x": {"field": "from", "type": "quantitative"}, "x2": {"field": "to"}, "y": {"field": "level", "type": "quantitative"}}
      },
      {
        "data": {"name": "bguides"},
        "transform": [{"filter": "datum.guide == 'protein'"}],
        "mark": {"type": "rule", "color": "#5A5A5A", "strokeWidth": 1.5},
        "encoding": {"x": {"field": "from", "type": "quantitative"}, "x2": {"field": "to"}, "y": {"field": "level", "type": "quantitative"}}
      },
      {
        "data": {"name": "bguides"},
        "transform": [{"filter": "datum.guide == 'axis'"}],
        "mark": {"type": "rule", "color": "#333333", "strokeWidth": 1.1},
        "encoding": {"x": {"field": "from", "type": "quantitative"}, "x2": {"field": "to"}, "y": {"field": "level", "type": "quantitative"}}
      },
      {
        "data": {"name": "bdomains"},
        "mark": {"type": "bar", "orient": "horizontal", "size": 9},
        "encoding": {
          "x": {"field": "start", "type": "quantitative"},
          "x2": {"field": "end"},
          "y": {"datum": 1.1},
          "color": {"field": "name", "type": "nominal", "scale": {"domain": ["DNA binding domain", "Transactivation domain"], "range": ["#87CEEB", "#BA55D3"]}, "legend": null}
        }
      },
      {
        "data": {"name": "bdomains"},
        "mark": {"type": "text", "baseline": "middle", "align": "center", "fontSize": 10.5, "font": "Liberation Sans"},
        "encoding": {
          "x": {"field": "mid", "type": "quantitative"},
          "y": {"datum": 1.163},
          "text": {"field": "name"},
          "color": {"field": "name", "type": "nominal", "scale": {"domain": ["DNA binding domain", "Transactivation domain"], "range": ["#87CEEB", "#BA55D3"]}, "legend": null}
        }
      }
    ],
    "resolve": {"scale": {"color": "independent"}}
  },
  {
    "width": 489, "height": 326,
    "title": {"text": "(C)", "dx": -159, "dy": 25, "baseline": "alphabetic"},
    "layer": [
      {
        "data": {"name": "regionsC"},
        "mark": {"type": "rect"},
        "encoding": {
          "x": {"field": "start", "type": "quantitative", "scale": {"domain": [-5.4, 313.6], "nice": false, "zero": false},
                "axis": {"values": [0, 100, 200, 300], "title": "Amino acid position", "labelFontSize": 23, "titleFontSize": 27, "labelPadding": 2, "titlePadding": 2, "labelColor": "#3A3A3A"}},
          "x2": {"field": "end"},
          "y": {"field": "lo", "type": "quantitative", "scale": {"domain": [0, 3.745], "nice": false}, "axis": null},
          "y2": {"field": "hi"},
          "color": {"field": "region", "type": "nominal", "scale": {"domain": ["DNA binding", "Activation"], "range": ["#92BCFA", "#FDBBFB"]}, "legend": null}
        }
      },
      {
        "data": {"name": "cguides"},
        "mark": {"type": "rule", "color": "#333333", "strokeWidth": 1.1},
        "encoding": {
          "x": {"field": "x", "type": "quantitative"},
          "y": {"field": "lo", "type": "quantitative", "scale": {"domain": [0, 3.745], "nice": false}, "axis": null},
          "y2": {"field": "hi"}
        }
      },
      {
        "data": {"name": "mutations"},
        "mark": {"type": "tick", "thickness": 2.5, "size": 28, "color": "#000000", "opacity": 1},
        "encoding": {
          "x": {"field": "pos", "type": "quantitative"},
          "y": {"field": "type", "type": "nominal", "scale": {"type": "point", "domain": ["Missense", "Stop", "Frame Shift"], "padding": 0.8554, "align": 0.4265},
                "axis": {"orient": "left", "domain": false, "title": "Type of substitution", "labelFontSize": 24, "titleFontSize": 27, "labelPadding": 1, "titlePadding": 3, "labelColor": "#3A3A3A"}}
        }
      }
    ],
    "resolve": {"scale": {"y": "independent"}}
  },
  {
    "width": 508, "height": 417,
    "title": {"text": "Amino Acid Positions in CRX", "font": "Liberation Sans", "fontSize": 19, "dx": 0, "dy": 10, "baseline": "alphabetic"},
    "layer": [
      {
        "data": {"name": "seq"},
        "transform": [{"lookup": "a", "from": {"data": {"name": "aagroups"}, "key": "a", "fields": ["g"]}}],
        "mark": {"type": "tick", "thickness": 2, "size": 19, "opacity": 0.75},
        "encoding": {
          "x": {"field": "p", "type": "quantitative", "scale": {"domain": [-13.9, 313.9], "nice": false, "zero": false},
                "axis": {"values": [0, 100, 200, 300], "title": "Position", "labelFontSize": 14, "titleFontSize": 16, "labelPadding": 3, "titlePadding": 2}},
          "y": {"field": "a", "type": "nominal", "scale": {"type": "point", "domain": ["C", "S", "G", "P", "W", "F", "Y", "N", "T", "Q", "I", "L", "V", "A", "M", "E", "D", "K", "R", "H"], "padding": 1},
                "axis": {"title": "Amino Acids", "labelFontSize": 13, "titleFontSize": 16, "labelPadding": 4, "titlePadding": 6}},
          "color": {"field": "g", "type": "nominal",
                    "scale": {"domain": ["Basic", "Acidic", "Nonpolar", "Polar", "Flexible", "Aromatic", "Small"], "range": ["#1B9E77", "#D95F02", "#7570B3", "#E7298A", "#66A61E", "#E6AB02", "#A6761D"]},
                    "legend": {"title": "Groups", "orient": "none", "legendX": 534, "legendY": 109, "titleFontSize": 16, "titleFontWeight": "normal", "titleColor": "#000000", "titleFont": "Liberation Sans", "labelFont": "Liberation Sans", "labelFontSize": 14, "labelColor": "#000000", "symbolType": "M-0.11,-1H0.11V1H-0.11Z", "symbolSize": 400, "symbolOpacity": 0.8, "symbolStrokeWidth": 0, "rowPadding": 6, "titlePadding": 9, "labelOffset": 12}}
        }
      },
      {
        "data": {"name": "regionsD"},
        "transform": [{"filter": "datum.region == 'DNA binding'"}],
        "mark": {"type": "rect", "color": "#00FFFF", "opacity": 0.24},
        "encoding": {"x": {"field": "start", "type": "quantitative"}, "x2": {"field": "end"}}
      },
      {
        "data": {"name": "regionsD"},
        "transform": [{"filter": "datum.region == 'Activation'"}],
        "mark": {"type": "rect", "color": "#F0C0F0", "opacity": 0.25},
        "encoding": {"x": {"field": "start", "type": "quantitative"}, "x2": {"field": "end"}}
      }
    ]
  }
]
}
